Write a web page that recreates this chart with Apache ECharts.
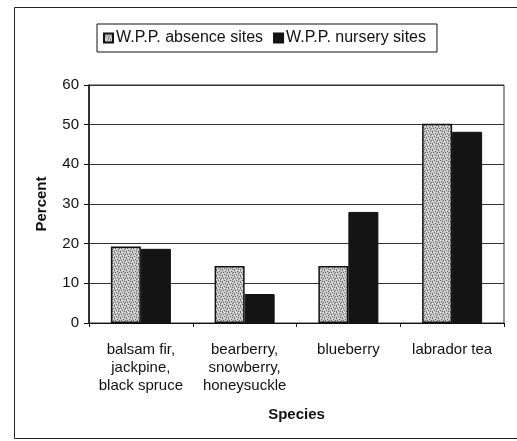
<!DOCTYPE html>
<html><head><meta charset="utf-8">
<script src="https://cdn.jsdelivr.net/npm/echarts@6/dist/echarts.min.js"></script>
<style>html,body{margin:0;padding:0;background:#fff}#c{width:517px;height:441px}</style>
</head><body><div id="c"></div>
<script>
var categories = ['balsam fir,\njackpine,\nblack spruce', 'bearberry,\nsnowberry,\nhoneysuckle', 'blueberry', 'labrador tea'];
var absence = [19.3, 14.4, 14.4, 50.2];
var nursery = [18.7, 7.3, 28.0, 48.2];
var yTicks = [0, 10, 20, 30, 40, 50, 60];

// stipple texture for the light bars (fixed tile pattern)
var tile = document.createElement('canvas');
tile.width = 6; tile.height = 6;
var tc = tile.getContext('2d');
tc.fillStyle = '#c4c4c4'; tc.fillRect(0, 0, 6, 6);
tc.fillStyle = '#6a6a6a';
[[0,0],[3,1],[1,2],[5,2],[2,4],[4,3],[0,5],[4,5]].forEach(function (p) { tc.fillRect(p[0], p[1], 1, 1); });
tc.fillStyle = '#eeeeee';
[[2,0],[5,0],[0,3],[3,3],[1,5]].forEach(function (p) { tc.fillRect(p[0], p[1], 1, 1); });

var chart = echarts.init(document.getElementById('c'));
var font = 'Arial, "Liberation Sans", sans-serif';
chart.setOption({
  animation: false,
  textStyle: {fontFamily: font},
  graphic: [{type: 'rect', shape: {x: 14.5, y: 7.5, width: 510, height: 431}, style: {fill: 'none', stroke: '#222', lineWidth: 1}, silent: true}],
  legend: {
    top: 24, left: 97,
    data: ['W.P.P. absence sites', 'W.P.P. nursery sites'],
    borderColor: '#111', borderWidth: 1, padding: [6, 11, 6, 6],
    itemWidth: 9, itemHeight: 9, itemGap: 10,
    textStyle: {fontSize: 16, color: '#111', fontFamily: font, padding: [0, 0, 0, -2]},
    icon: 'rect'
  },
  grid: {left: 89, right: 13, top: 85, bottom: 118, show: true, borderColor: '#333', borderWidth: 1},
  xAxis: {
    type: 'category', data: categories,
    name: 'Species', nameLocation: 'middle', nameGap: 84,
    nameTextStyle: {fontWeight: 'bold', fontSize: 15, color: '#111'},
    axisLine: {lineStyle: {color: '#111', width: 1}},
    axisTick: {show: true, length: 4, lineStyle: {color: '#111'}},
    axisLabel: {fontSize: 15, color: '#111', lineHeight: 18, margin: 18, interval: 0}
  },
  yAxis: {
    type: 'value', min: 0, max: 60, interval: 10,
    name: 'Percent', nameLocation: 'middle', nameGap: 40,
    nameTextStyle: {fontWeight: 'bold', fontSize: 15, color: '#111'},
    axisLine: {show: true, lineStyle: {color: '#111', width: 1.5}},
    axisTick: {show: true, length: 5, lineStyle: {color: '#111'}},
    axisLabel: {fontSize: 15, color: '#111', margin: 10,
      formatter: function (v) { return yTicks.indexOf(v) >= 0 ? String(v) : ''; }},
    splitLine: {show: true, lineStyle: {color: '#333', width: 1}}
  },
  series: [
    {name: 'W.P.P. absence sites', type: 'bar', data: absence, barWidth: 30, barGap: '0%',
     itemStyle: {color: {image: tile, repeat: 'repeat'}, borderColor: '#111', borderWidth: 1.5}},
    {name: 'W.P.P. nursery sites', type: 'bar', data: nursery, barWidth: 30,
     itemStyle: {color: '#141414', borderColor: '#111', borderWidth: 1}}
  ]
});
</script></body></html>
